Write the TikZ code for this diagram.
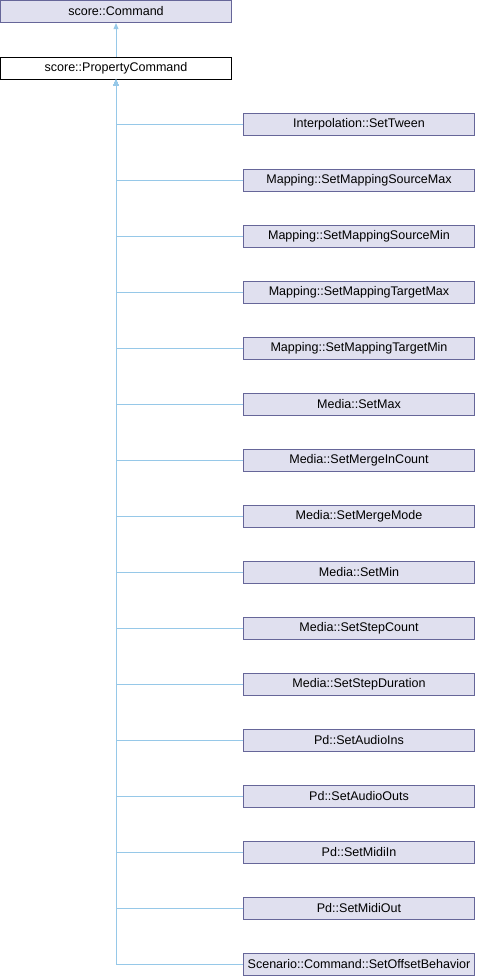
\documentclass[tikz,border=0pt]{standalone}
\usepackage{fontspec}
\setmainfont{Liberation Sans}
\usetikzlibrary{arrows.meta,positioning}
\definecolor{boxfill}{RGB}{224,224,239}
\definecolor{boxline}{RGB}{102,102,153}
\definecolor{inhblue}{RGB}{150,200,232}

\tikzset{
  cls/.style={draw=boxline, fill=boxfill, line width=0.75pt, minimum width=173pt, minimum height=16.5pt, inner sep=0pt, font=\fontsize{9.4}{11}\selectfont},
  curcls/.style={cls, draw=black, fill=white},
  inh/.style={draw=inhblue, line width=0.75pt, -{Triangle[length=4.5pt,width=3.6pt]}}
}

\begin{document}
\begin{tikzpicture}[x=0.75pt, y=-0.75pt]

\useasboundingbox (0,0) rectangle (476,976);

% Base classes
\node[cls] (cmd) at (116,11.5) {score::Command};
\node[curcls] (propcmd) at (116,68) {score::PropertyCommand};
\draw[inh] (propcmd.north) -- (cmd.south);

% Derived classes
\foreach \name [count=\i] in {Interpolation::SetTween,
    Mapping::SetMappingSourceMax, Mapping::SetMappingSourceMin,
    Mapping::SetMappingTargetMax, Mapping::SetMappingTargetMin,
    Media::SetMax, Media::SetMergeInCount, Media::SetMergeMode,
    Media::SetMin, Media::SetStepCount, Media::SetStepDuration,
    Pd::SetAudioIns, Pd::SetAudioOuts, Pd::SetMidiIn, Pd::SetMidiOut,
    Scenario::Command::SetOffsetBehavior} {
  \node[cls] (c\i) at (359,{124+56*(\i-1)}) {\name};
  \draw[inh] (c\i.west) -| (propcmd.south);
}

\end{tikzpicture}
\end{document}
